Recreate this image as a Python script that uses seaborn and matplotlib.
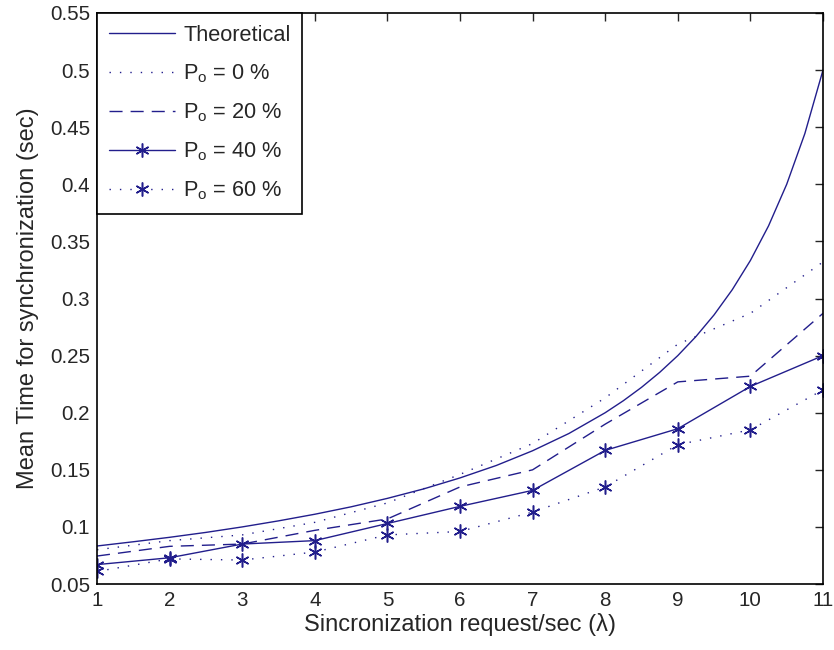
import matplotlib
matplotlib.use("Agg")
import matplotlib.pyplot as plt
import seaborn as sns
import numpy as np

# theoretical curve (finer steps where it bends)
lam_theory = [1, 1.5, 2, 2.5, 3, 3.5, 4, 4.5, 5, 5.5, 6, 6.5, 7, 7.5, 8,
              8.25, 8.5, 8.75, 9, 9.25, 9.5, 9.75, 10, 10.25, 10.5, 10.75, 11]
theory = [0.0833, 0.0870, 0.0909, 0.0952, 0.100, 0.1053, 0.1111, 0.1176, 0.125, 0.1333, 0.1429,
          0.1538, 0.1667, 0.1818, 0.200, 0.2105, 0.2222, 0.2353, 0.250, 0.2667, 0.2857,
          0.3077, 0.3333, 0.3636, 0.400, 0.4444, 0.500]

lam = [1, 2, 3, 4, 5, 6, 7, 8, 9, 10, 11]
po_0 = [0.080, 0.088, 0.093, 0.104, 0.121, 0.146, 0.173, 0.213, 0.260, 0.287, 0.332]
po_20 = [0.0745, 0.083, 0.085, 0.097, 0.107, 0.135, 0.150, 0.190, 0.227, 0.232, 0.287]
po_40 = [0.067, 0.073, 0.085, 0.088, 0.103, 0.118, 0.132, 0.167, 0.186, 0.223, 0.250]
po_60 = [0.061, 0.072, 0.071, 0.078, 0.093, 0.096, 0.113, 0.135, 0.172, 0.185, 0.220]

labels = ["Theoretical", "P$_\\mathrm{o}$ = 0 %", "P$_\\mathrm{o}$ = 20 %",
          "P$_\\mathrm{o}$ = 40 %", "P$_\\mathrm{o}$ = 60 %"]

sns.set_style("white")
plt.rcParams['font.family'] = ['Liberation Sans', 'DejaVu Sans']
plt.rcParams['mathtext.fontset'] = 'custom'
plt.rcParams['mathtext.rm'] = 'Liberation Sans'
plt.rcParams['mathtext.it'] = 'Liberation Sans:italic'

col = '#221e8c'
star = (6, 2, 0)
dots = (0, (1, 6.5))
dashes = (0, (9.4, 5.8))

fig = plt.figure(figsize=(8.34, 6.5), dpi=100)
ax = fig.add_axes([0.1163, 0.1015, 0.8705, 0.8785])

sns.lineplot(x=lam_theory, y=theory, ax=ax, color=col, lw=1.0, label=labels[0])
sns.lineplot(x=lam, y=po_0, ax=ax, color=col, lw=1.0, linestyle=dots, label=labels[1])
sns.lineplot(x=lam, y=po_20, ax=ax, color=col, lw=1.0, linestyle=dashes, label=labels[2])
sns.lineplot(x=lam, y=po_40, ax=ax, color=col, lw=1.0, marker=star, markersize=10,
             markeredgewidth=1.1, markeredgecolor=col, label=labels[3])
sns.lineplot(x=lam, y=po_60, ax=ax, color=col, lw=1.0, linestyle=dots, marker=star,
             markersize=10, markeredgewidth=1.1, markeredgecolor=col, label=labels[4])

ax.set_xlim(1, 11)
ax.set_ylim(0.05, 0.55)
ax.set_xticks(np.arange(1, 12))
ax.set_yticks(np.arange(0.05, 0.551, 0.05))
ax.set_yticklabels(["0.05", "0.1", "0.15", "0.2", "0.25", "0.3", "0.35", "0.4", "0.45", "0.5", "0.55"])
ax.tick_params(direction='in', top=True, right=True, length=6, width=1, labelsize=14.8, pad=5)
for s in ax.spines.values():
    s.set_color('black')
    s.set_linewidth(1.2)

ax.set_xlabel("Sincronization request/sec (\u03bb)", fontsize=17, labelpad=2)
ax.set_ylabel("Mean Time for synchronization (sec)", fontsize=17, labelpad=8)

leg = ax.legend(loc='upper left', fontsize=15.7, frameon=True, fancybox=False,
                edgecolor='black', framealpha=1, borderaxespad=0, handlelength=3.05,
                labelspacing=0.75, borderpad=0.55, handletextpad=0.35)
leg.get_frame().set_linewidth(1.2)

plt.savefig("out.png", dpi=100)
